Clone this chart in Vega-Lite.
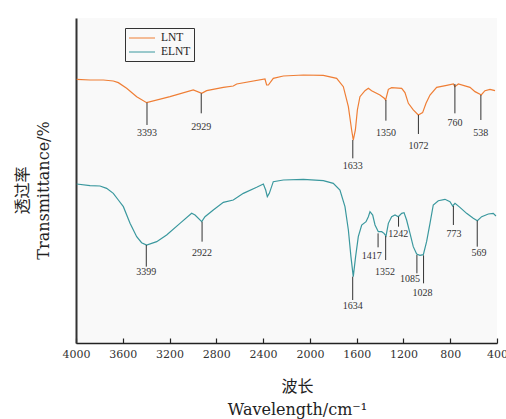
{
  "$schema": "https://vega.github.io/schema/vega-lite/v6.json",
  "width": 421,
  "height": 325,
  "autosize": "none",
  "padding": {"left": 76, "top": 18, "right": 9, "bottom": 76},
  "background": "white",
  "config": {
    "view": {"fill": "#f9f9f9", "stroke": null},
    "font": "DejaVu Serif"
  },
  "datasets": {
    "spectra": [
      {"series": "LNT", "w": 3994, "t": 81.13},
      {"series": "LNT", "w": 3880, "t": 80.93},
      {"series": "LNT", "w": 3766, "t": 80.93},
      {"series": "LNT", "w": 3681, "t": 80.62},
      {"series": "LNT", "w": 3638, "t": 80.11},
      {"series": "LNT", "w": 3567, "t": 78.36},
      {"series": "LNT", "w": 3481, "t": 75.8},
      {"series": "LNT", "w": 3396, "t": 73.95},
      {"series": "LNT", "w": 3196, "t": 75.8},
      {"series": "LNT", "w": 2997, "t": 77.85},
      {"series": "LNT", "w": 2925, "t": 76.82},
      {"series": "LNT", "w": 2883, "t": 77.64},
      {"series": "LNT", "w": 2740, "t": 78.67},
      {"series": "LNT", "w": 2655, "t": 79.08},
      {"series": "LNT", "w": 2626, "t": 79.7},
      {"series": "LNT", "w": 2384, "t": 81.23},
      {"series": "LNT", "w": 2370, "t": 79.39},
      {"series": "LNT", "w": 2355, "t": 79.39},
      {"series": "LNT", "w": 2313, "t": 81.44},
      {"series": "LNT", "w": 2227, "t": 82.16},
      {"series": "LNT", "w": 2056, "t": 82.46},
      {"series": "LNT", "w": 1885, "t": 82.36},
      {"series": "LNT", "w": 1771, "t": 81.44},
      {"series": "LNT", "w": 1714, "t": 78.87},
      {"series": "LNT", "w": 1671, "t": 72.72},
      {"series": "LNT", "w": 1643, "t": 65.54},
      {"series": "LNT", "w": 1629, "t": 62.46},
      {"series": "LNT", "w": 1611, "t": 65.54},
      {"series": "LNT", "w": 1594, "t": 71.7},
      {"series": "LNT", "w": 1572, "t": 75.8},
      {"series": "LNT", "w": 1529, "t": 77.64},
      {"series": "LNT", "w": 1500, "t": 78.36},
      {"series": "LNT", "w": 1472, "t": 77.64},
      {"series": "LNT", "w": 1401, "t": 76.31},
      {"series": "LNT", "w": 1364, "t": 75.29},
      {"series": "LNT", "w": 1352, "t": 74.77},
      {"series": "LNT", "w": 1329, "t": 78.05},
      {"series": "LNT", "w": 1301, "t": 78.57},
      {"series": "LNT", "w": 1215, "t": 78.36},
      {"series": "LNT", "w": 1187, "t": 77.03},
      {"series": "LNT", "w": 1158, "t": 73.75},
      {"series": "LNT", "w": 1116, "t": 71.7},
      {"series": "LNT", "w": 1073, "t": 70.16},
      {"series": "LNT", "w": 1036, "t": 70.88},
      {"series": "LNT", "w": 1007, "t": 73.75},
      {"series": "LNT", "w": 973, "t": 76.31},
      {"series": "LNT", "w": 916, "t": 78.67},
      {"series": "LNT", "w": 830, "t": 79.28},
      {"series": "LNT", "w": 773, "t": 79.7},
      {"series": "LNT", "w": 760, "t": 78.87},
      {"series": "LNT", "w": 731, "t": 79.7},
      {"series": "LNT", "w": 631, "t": 78.67},
      {"series": "LNT", "w": 588, "t": 77.34},
      {"series": "LNT", "w": 545, "t": 76.52},
      {"series": "LNT", "w": 535, "t": 76.31},
      {"series": "LNT", "w": 503, "t": 77.64},
      {"series": "LNT", "w": 460, "t": 78.05},
      {"series": "LNT", "w": 417, "t": 77.64},
      {"series": "ELNT", "w": 3994, "t": 48.92},
      {"series": "ELNT", "w": 3880, "t": 48.41},
      {"series": "ELNT", "w": 3795, "t": 48.31},
      {"series": "ELNT", "w": 3738, "t": 47.59},
      {"series": "ELNT", "w": 3681, "t": 46.05},
      {"series": "ELNT", "w": 3638, "t": 44.0},
      {"series": "ELNT", "w": 3595, "t": 41.95},
      {"series": "ELNT", "w": 3538, "t": 36.82},
      {"series": "ELNT", "w": 3481, "t": 32.72},
      {"series": "ELNT", "w": 3439, "t": 30.87},
      {"series": "ELNT", "w": 3396, "t": 30.15},
      {"series": "ELNT", "w": 3310, "t": 31.18},
      {"series": "ELNT", "w": 3225, "t": 33.23},
      {"series": "ELNT", "w": 3111, "t": 36.82},
      {"series": "ELNT", "w": 3011, "t": 39.9},
      {"series": "ELNT", "w": 2982, "t": 39.38},
      {"series": "ELNT", "w": 2925, "t": 37.33},
      {"series": "ELNT", "w": 2897, "t": 38.87},
      {"series": "ELNT", "w": 2826, "t": 40.92},
      {"series": "ELNT", "w": 2740, "t": 43.28},
      {"series": "ELNT", "w": 2655, "t": 44.0},
      {"series": "ELNT", "w": 2569, "t": 46.05},
      {"series": "ELNT", "w": 2455, "t": 47.9},
      {"series": "ELNT", "w": 2398, "t": 48.92},
      {"series": "ELNT", "w": 2378, "t": 47.08},
      {"series": "ELNT", "w": 2364, "t": 45.03},
      {"series": "ELNT", "w": 2347, "t": 46.05},
      {"series": "ELNT", "w": 2313, "t": 49.64},
      {"series": "ELNT", "w": 2227, "t": 50.15},
      {"series": "ELNT", "w": 2056, "t": 50.36},
      {"series": "ELNT", "w": 1885, "t": 49.95},
      {"series": "ELNT", "w": 1800, "t": 49.13},
      {"series": "ELNT", "w": 1743, "t": 47.08},
      {"series": "ELNT", "w": 1700, "t": 41.95},
      {"series": "ELNT", "w": 1671, "t": 34.77},
      {"series": "ELNT", "w": 1649, "t": 26.56},
      {"series": "ELNT", "w": 1629, "t": 20.41},
      {"series": "ELNT", "w": 1609, "t": 26.56},
      {"series": "ELNT", "w": 1586, "t": 32.72},
      {"series": "ELNT", "w": 1557, "t": 36.31},
      {"series": "ELNT", "w": 1520, "t": 37.33},
      {"series": "ELNT", "w": 1500, "t": 38.87},
      {"series": "ELNT", "w": 1486, "t": 40.41},
      {"series": "ELNT", "w": 1463, "t": 39.38},
      {"series": "ELNT", "w": 1443, "t": 36.31},
      {"series": "ELNT", "w": 1415, "t": 34.26},
      {"series": "ELNT", "w": 1386, "t": 34.26},
      {"series": "ELNT", "w": 1366, "t": 33.74},
      {"series": "ELNT", "w": 1349, "t": 32.92},
      {"series": "ELNT", "w": 1329, "t": 36.82},
      {"series": "ELNT", "w": 1301, "t": 38.87},
      {"series": "ELNT", "w": 1272, "t": 39.38},
      {"series": "ELNT", "w": 1244, "t": 38.87},
      {"series": "ELNT", "w": 1215, "t": 39.9},
      {"series": "ELNT", "w": 1195, "t": 40.1},
      {"series": "ELNT", "w": 1173, "t": 37.85},
      {"series": "ELNT", "w": 1144, "t": 33.74},
      {"series": "ELNT", "w": 1116, "t": 29.64},
      {"series": "ELNT", "w": 1087, "t": 27.38},
      {"series": "ELNT", "w": 1059, "t": 26.97},
      {"series": "ELNT", "w": 1030, "t": 27.18},
      {"series": "ELNT", "w": 1002, "t": 31.18},
      {"series": "ELNT", "w": 973, "t": 36.82},
      {"series": "ELNT", "w": 945, "t": 42.46},
      {"series": "ELNT", "w": 902, "t": 43.79},
      {"series": "ELNT", "w": 845, "t": 44.21},
      {"series": "ELNT", "w": 802, "t": 43.49},
      {"series": "ELNT", "w": 779, "t": 42.15},
      {"series": "ELNT", "w": 759, "t": 42.97},
      {"series": "ELNT", "w": 717, "t": 41.74},
      {"series": "ELNT", "w": 660, "t": 39.9},
      {"series": "ELNT", "w": 603, "t": 38.36},
      {"series": "ELNT", "w": 568, "t": 37.64},
      {"series": "ELNT", "w": 531, "t": 38.87},
      {"series": "ELNT", "w": 474, "t": 39.69},
      {"series": "ELNT", "w": 432, "t": 39.9},
      {"series": "ELNT", "w": 409, "t": 39.08}
    ],
    "ann": [
      {"peak": 3393, "y1": 73.95, "y2": 67.08, "lx": 3393, "ly": 64.5},
      {"peak": 2929, "y1": 76.82, "y2": 70.67, "lx": 2929, "ly": 66.57},
      {"peak": 1633, "y1": 62.46, "y2": 56.82, "lx": 1633, "ly": 54.57},
      {"peak": 1350, "y1": 74.77, "y2": 68.41, "lx": 1350, "ly": 64.5},
      {"peak": 1072, "y1": 70.16, "y2": 64.31, "lx": 1072, "ly": 60.72},
      {"peak": 760, "y1": 79.7, "y2": 70.67, "lx": 760, "ly": 67.8},
      {"peak": 538, "y1": 76.31, "y2": 68.62, "lx": 538, "ly": 64.5},
      {"peak": 3399, "y1": 30.15, "y2": 23.49, "lx": 3399, "ly": 21.95},
      {"peak": 2922, "y1": 37.33, "y2": 31.18, "lx": 2922, "ly": 27.79},
      {"peak": 1634, "y1": 20.41, "y2": 13.23, "lx": 1634, "ly": 11.49},
      {"peak": 1417, "y1": 33.74, "y2": 29.44, "lx": 1472, "ly": 26.87},
      {"peak": 1352, "y1": 32.92, "y2": 25.54, "lx": 1358, "ly": 21.95},
      {"peak": 1242, "y1": 38.87, "y2": 35.79, "lx": 1244, "ly": 33.44},
      {"peak": 1085, "y1": 27.08, "y2": 21.44, "lx": 1144, "ly": 19.69},
      {"peak": 1028, "y1": 26.97, "y2": 18.36, "lx": 1036, "ly": 15.49},
      {"peak": 773, "y1": 42.15, "y2": 36.31, "lx": 768, "ly": 33.54},
      {"peak": 569, "y1": 37.64, "y2": 29.64, "lx": 554, "ly": 27.59}
    ]
  },
  "layer": [
    {
      "data": {"name": "spectra"},
      "mark": {"type": "line", "strokeWidth": 1.2},
      "encoding": {
        "x": {
          "field": "w", "type": "quantitative",
          "scale": {"domain": [400, 4000], "reverse": true, "nice": false, "zero": false},
          "axis": {
            "values": [4000, 3600, 3200, 2800, 2400, 2000, 1600, 1200, 800, 400],
            "format": "d",
            "grid": false,
            "tickSize": -5,
            "tickColor": "#222",
            "tickWidth": 1.2,
            "domainColor": "#222",
            "domainWidth": 1.5,
            "labelFont": "DejaVu Serif",
            "labelFontSize": 11,
            "labelColor": "#333",
            "labelPadding": 10,
            "labelFlush": false,
            "labelOverlap": false,
            "title": ["波长", "Wavelength/cm⁻¹"],
            "titleFont": "DejaVu Serif, Noto Sans CJK SC",
            "titleFontSize": 16,
            "titleFontWeight": "normal",
            "titleColor": "#222",
            "titleLineHeight": 23,
            "titleAlign": "center",
            "titleBaseline": "top",
            "titleX": 221,
            "titleY": 35
          }
        },
        "y": {
          "field": "t", "type": "quantitative",
          "scale": {"domain": [0, 100], "nice": false, "zero": false},
          "axis": {
            "grid": false,
            "ticks": false,
            "labels": false,
            "domainColor": "#333",
            "domainWidth": 2,
            "title": ["　　 透过率", "Transmittance/%"],
            "titleFont": "DejaVu Serif, Noto Sans CJK SC",
            "titleFontSize": 16,
            "titleFontWeight": "normal",
            "titleColor": "#222",
            "titleLineHeight": 21,
            "titleAngle": -90,
            "titleAlign": "center",
            "titleBaseline": "top",
            "titleX": -62,
            "titleY": 172
          }
        },
        "color": {
          "field": "series", "type": "nominal",
          "scale": {"domain": ["LNT", "ELNT"], "range": ["#EF7E35", "#3A989E"]},
          "legend": {
            "title": null,
            "orient": "none",
            "legendX": 49,
            "legendY": 10,
            "strokeColor": "#333",
            "fillColor": "#f9f9f9",
            "padding": 3,
            "symbolType": "M-2,0H2",
            "symbolSize": 169,
            "symbolStrokeWidth": 1,
            "symbolOffset": 7,
            "labelFont": "Liberation Serif",
            "labelFontSize": 11.5,
            "labelColor": "#222",
            "labelOffset": 12,
            "rowPadding": 1
          }
        }
      }
    },
    {
      "data": {"name": "ann"},
      "mark": {"type": "rule", "color": "#333", "strokeWidth": 1},
      "encoding": {
        "x": {"field": "peak", "type": "quantitative"},
        "y": {"field": "y1", "type": "quantitative"},
        "y2": {"field": "y2"}
      }
    },
    {
      "data": {"name": "ann"},
      "mark": {"type": "text", "font": "Liberation Serif", "fontSize": 10, "color": "#333", "baseline": "middle", "align": "center"},
      "encoding": {
        "x": {"field": "lx", "type": "quantitative"},
        "y": {"field": "ly", "type": "quantitative"},
        "text": {"field": "peak", "type": "nominal"}
      }
    }
  ]
}
